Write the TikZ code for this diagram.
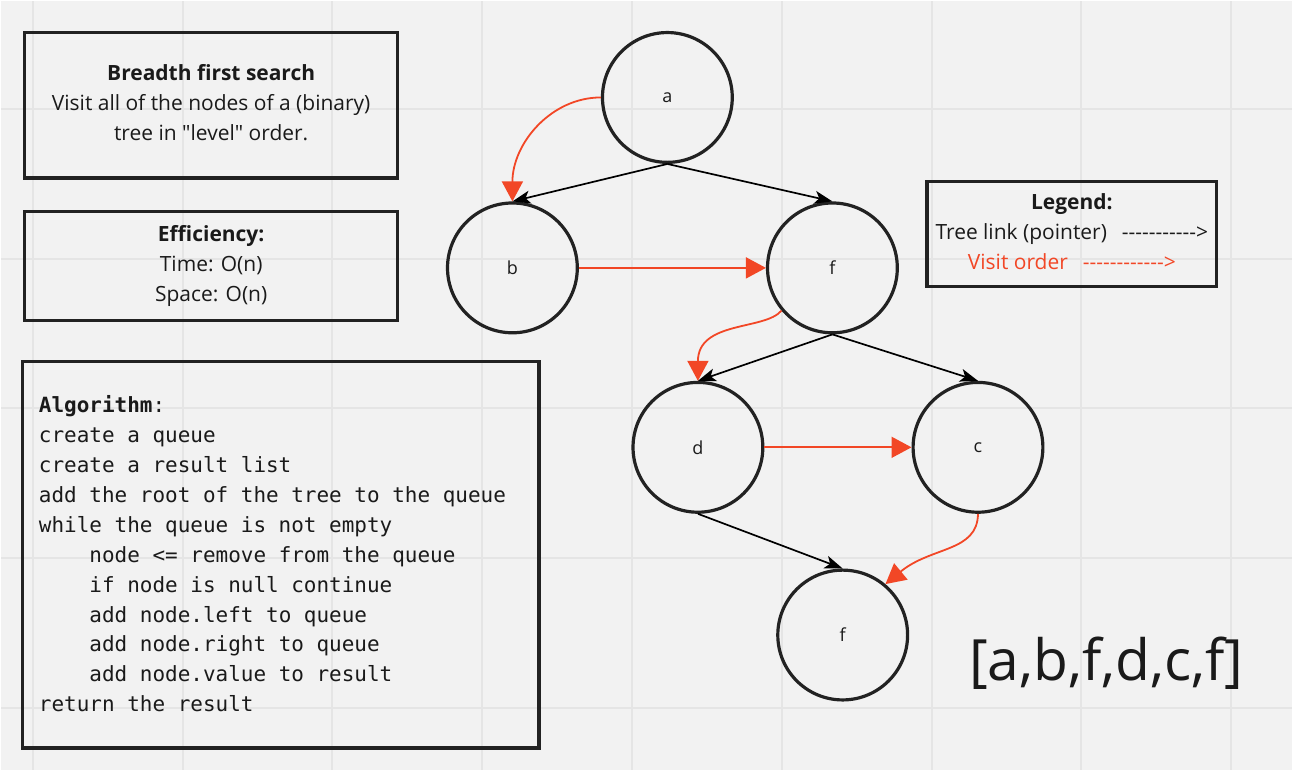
\documentclass[tikz,border=0pt]{standalone}
\usepackage{fontspec}
\setmainfont{Open Sans}
\setmonofont{DejaVu Sans Mono}
\usetikzlibrary{arrows.meta}
\definecolor{bg}{HTML}{F2F2F2}
\definecolor{gridc}{HTML}{E5E5E5}
\definecolor{ink}{HTML}{1A1A1A}
\definecolor{boxc}{HTML}{222222}
\definecolor{visit}{HTML}{F24726}
\newcommand\hy{-\kern0pt}
\newcommand\sq{\XeTeXglyph\the\XeTeXcharglyph"22\relax}
\newcommand\monosp{\spaceskip 12.64pt\relax\xspaceskip 12.64pt\relax}
\begin{document}
\begin{tikzpicture}[x=1pt,y=-1pt,
  box/.style={draw=boxc, line width=3.2pt, rectangle, inner sep=0pt},
  circ/.style={draw=boxc, circle, line width=3.2pt, minimum size=130pt, inner sep=0pt, text=ink, font=\fontsize{18}{22}\selectfont},
  txt/.style={text=ink, font=\fontsize{21}{30}\selectfont, align=center, inner sep=0pt},
  tree/.style={draw=black, line width=1.7pt, -{Stealth[length=18pt,width=13pt,inset=4.5pt]}},
  visitarr/.style={draw=visit, line width=1.8pt, -{Triangle[length=20pt,width=21pt]}},
]
% background and grid
\path[fill=bg] (0,0) rectangle (1293,770);
\foreach \gx in {32,182,...,1232} \draw[gridc, line width=2pt] (\gx,0) -- (\gx,770);
\foreach \gy in {108,258,...,708} \draw[gridc, line width=2pt] (0,\gy) -- (1293,\gy);

% info boxes
\node[box, minimum width=374pt, minimum height=146pt] (titlebox) at (210.5,104.2) {};
\node[txt] (titletxt) at (210.5,102) {\textbf{Breadth first search}\\Visit all of the nodes of a (binary)\\tree in \sq level\sq{} order.};

\node[box, minimum width=374pt, minimum height=109pt] (effbox) at (210.5,265.3) {};
\node[txt] (efftxt) at (210.5,265.2) {\textbf{Efficiency:}\\Time: O(n)\\Space: O(n)};

\node[box, minimum width=517pt, minimum height=387pt] (algbox) at (280.4,554.7) {};
\node[text=ink, inner sep=0pt, text width=500pt, align=flush left, font=\ttfamily\fontsize{21}{29.95}\selectfont] (algtxt) at (288,553.7)
{\monosp\textbf{Algorithm}:\\
create a queue\\
create a result list\\
add the root of the tree to the queue\\
while the queue is not empty\\
\hphantom{xxxx}node <= remove from the queue\\
\hphantom{xxxx}if node is null continue\\
\hphantom{xxxx}add node.left to queue\\
\hphantom{xxxx}add node.right to queue\\
\hphantom{xxxx}add node.value to result\\
return the result};

\node[box, minimum width=290pt, minimum height=105pt] (legbox) at (1072.5,233.5) {};
\node[txt] (legtxt) at (1072.5,231) {\textbf{Legend:}\\Tree link (pointer)\hspace{15pt}\hy\hy\hy\hy\hy\hy\hy\hy\hy\hy\hy>\\\textcolor{visit}{Visit order\hspace{15pt}\hy\hy\hy\hy\hy\hy\hy\hy\hy\hy\hy\hy>}};

% tree nodes
\node[circ] (a) at (667.4,96.6) {a};
\node[circ] (b) at (512.2,267.3) {b};
\node[circ] (f1) at (832.7,267.3) {f};
\node[circ] (d) at (698,447) {d};
\node[circ] (c) at (978.5,447) {c};
\node[circ] (f2) at (843,635) {f};

% tree links
\draw[tree] (a.south) -- (b.north);
\draw[tree] (a.south) -- (f1.north);
\draw[tree] (f1.south) -- (d.north);
\draw[tree] (f1.south) -- (c.north);
\draw[tree] (d.south) -- (f2.north);

% visit order
\draw[visitarr] (a.west) .. controls +(-50,0) and +(0,-58) .. (b.north);
\draw[visitarr] (b.east) -- (f1.west);
\draw[visitarr] (f1.-140) .. controls (765,330) and (698,320) .. (d.north);
\draw[visitarr] (d.east) -- (c.west);
\draw[visitarr] (c.south) .. controls (978,552) and (932,546) .. (f2.50);

% result
\node[text=ink, inner sep=0pt, anchor=base, font=\fontsize{57}{60}\selectfont] (result) at (1107,681) {[a,b,f,d,c,f]};
\end{tikzpicture}
\end{document}
